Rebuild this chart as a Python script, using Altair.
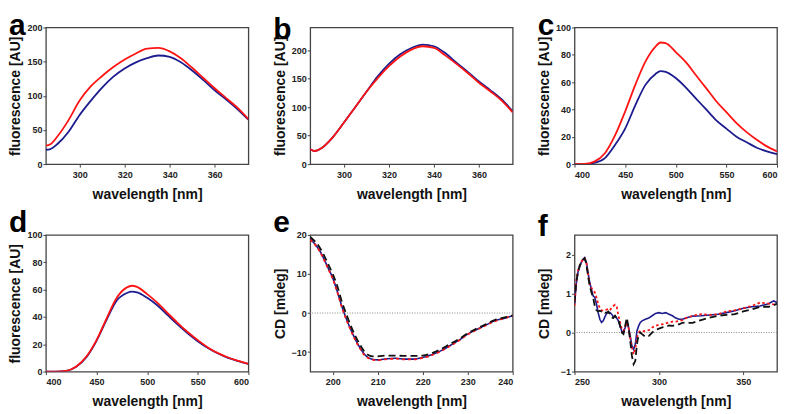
import altair as alt
import pandas as pd

BLUE = "#1c1c8e"
RED = "#ff1414"
BLACK = "#111111"
FONT = "Liberation Sans"

# ---------------- panel a ----------------
a_wl = [285, 287, 290, 295, 300, 305, 310, 315, 320, 325, 330, 335, 340, 345, 350, 355, 360, 365, 370, 375]
a_blue = [21, 22, 29, 47, 72, 93, 112, 128, 140, 149, 155, 159, 157, 149, 137, 123, 108, 95, 81, 65]
a_red = [27, 29, 40, 64, 93, 114, 129, 142, 153, 162, 169, 170, 165, 155, 141, 126, 111, 97, 83, 66]

# ---------------- panel b ----------------
b_wl = [285, 287, 290, 295, 300, 305, 310, 315, 320, 325, 330, 335, 340, 345, 350, 355, 360, 365, 370, 375]
b_blue = [26, 23, 28, 47, 73, 100, 127, 154, 176, 193, 204, 210, 207, 195, 178, 162, 145, 130, 114, 93]
b_red = [26, 23, 28, 47, 73, 100, 127, 151, 172, 189, 201, 207, 204, 191, 176, 160, 143, 128, 112, 91]

# ---------------- panel c ----------------
c_wl = [400, 410, 420, 430, 440, 450, 460, 470, 480, 485, 490, 500, 510, 520, 530, 540, 550, 560, 570, 580, 590, 600]
c_blue = [0, 0, 1, 4.4, 14, 26, 43, 58, 66, 68, 67.5, 63, 56, 48, 40, 32, 26, 20, 16, 12, 9.3, 7.3]
c_red = [0, 0.2, 2, 8, 21, 38.5, 58, 75, 86, 89, 88.5, 82, 74.6, 65, 55.6, 46, 38, 30, 23.4, 17.8, 13, 9.3]

# ---------------- panel d ----------------
d_wl = [400, 410, 420, 430, 440, 450, 460, 470, 480, 485, 490, 500, 510, 520, 530, 540, 550, 560, 570, 580, 590, 600]
d_blue = [0, 0, 0.5, 3.5, 10.5, 22.5, 38, 52, 57.5, 58.5, 58, 54, 48.5, 41.5, 34.5, 28, 22.2, 17.2, 13.2, 10, 7.7, 5.6]
d_red = [0, 0, 0.5, 3.7, 11, 23, 39, 54, 61.6, 62.8, 62, 56.7, 50.5, 43, 35.7, 29, 23, 17.7, 13.5, 10.3, 7.9, 5.7]

# ---------------- panel e ----------------
e_wl = [195, 197, 199, 200, 201, 202, 203, 204, 205, 206, 207, 208, 209, 210, 212, 214, 216, 218, 220,
        222, 224, 226, 228, 230, 232, 234, 236, 238, 240]
e_blue = [19, 16.2, 11.5, 9, 5.6, 1.8, -1.4, -4.2, -6.7, -8.8, -10.5, -11.5, -11.9, -12, -11.7, -11.6, -11.8,
          -11.8, -11.4, -10.7, -9.7, -8.4, -7, -5.4, -4.2, -3.1, -2, -1.4, -0.7]
e_red = [18.8, 16, 11.3, 8.8, 5.4, 1.6, -1.6, -4.4, -6.9, -9, -10.7, -11.6, -12, -12.1, -11.8, -11.7, -11.9,
         -11.9, -11.5, -10.8, -9.8, -8.5, -7.1, -5.5, -4.3, -3.2, -2.1, -1.4, -0.7]
e_black = [19.5, 17, 12.5, 10, 7, 3, -0.2, -3.2, -5.8, -8, -9.8, -10.8, -11.1, -11.1, -10.9, -10.9, -11,
           -11, -10.9, -10.3, -9.3, -8, -6.7, -5.2, -4, -2.9, -1.8, -1.2, -0.6]

# ---------------- panel f ----------------
f_wl = [250, 251, 252, 253, 254, 255, 256, 257, 258, 259, 260, 261, 262, 263, 264, 265, 266, 267, 268, 269,
        270, 271, 272, 273, 274, 275, 276, 277, 278, 279, 280, 281, 282, 283, 284, 285, 286, 287, 288, 289,
        290, 292, 294, 296, 298, 300, 302, 304, 306, 308, 310, 312, 314, 316, 318, 320, 325, 330, 335, 340,
        345, 350, 355, 360, 365, 368, 370]
f_blue = [0.73, 1.24, 1.54, 1.67, 1.8, 1.88, 1.92, 1.8, 1.54, 1.28, 1.11, 0.94, 0.9, 0.73, 0.51, 0.34, 0.26,
          0.3, 0.4, 0.49, 0.51, 0.51, 0.47, 0.4, 0.43, 0.37, 0.3, 0.17, 0.04, 0, 0.13, 0.3, 0.13, -0.09,
          -0.34, -0.43, -0.3, 0.04, 0.17, 0.26, 0.3, 0.34, 0.37, 0.43, 0.49, 0.51, 0.49, 0.51, 0.47, 0.43,
          0.37, 0.34, 0.34, 0.37, 0.4, 0.42, 0.43, 0.45, 0.47, 0.51, 0.56, 0.62, 0.66, 0.68, 0.74, 0.81, 0.77]
f_red = [0.68, 1.32, 1.58, 1.71, 1.8, 1.88, 1.9, 1.8, 1.5, 1.24, 1.15, 1.07, 1.03, 0.9, 0.73, 0.62, 0.57,
         0.56, 0.58, 0.59, 0.6, 0.57, 0.64, 0.68, 0.71, 0.66, 0.43, 0.26, 0.09, 0.04, 0.13, 0.26, 0.13, -0.13,
         -0.38, -0.56, -0.43, -0.13, 0, 0.04, 0.03, 0.04, 0.06, 0.13, 0.17, 0.2, 0.21, 0.23, 0.26, 0.28,
         0.28, 0.3, 0.32, 0.37, 0.4, 0.43, 0.47, 0.45, 0.47, 0.54, 0.57, 0.62, 0.68, 0.77, 0.74, 0.72, 0.71]
f_black = [0.77, 1.28, 1.54, 1.71, 1.8, 1.85, 1.9, 1.75, 1.45, 1.2, 1.03, 0.9, 0.68, 0.57, 0.54, 0.56, 0.54,
           0.56, 0.51, 0.51, 0.54, 0.47, 0.38, 0.37, 0.43, 0.37, 0.32, 0.17, 0, -0.04, 0.17, 0.38, 0.13, -0.21,
           -0.6, -0.81, -0.73, -0.3, -0.04, 0, -0.04, -0.11, -0.09, 0, 0.06, 0.1, 0.13, 0.15, 0.18, 0.17,
           0.2, 0.21, 0.25, 0.26, 0.25, 0.25, 0.32, 0.38, 0.43, 0.45, 0.47, 0.54, 0.59, 0.66, 0.66, 0.7, 0.74]


def line_layer(wl, vals, color, xscale, xaxis, yscale, yaxis, dash=None, width=1.8, interp="monotone"):
    df = pd.DataFrame({"wl": wl, "v": vals})
    kw = dict(color=color, strokeWidth=width, interpolate=interp, clip=True)
    if dash is not None:
        kw["strokeDash"] = dash
    return alt.Chart(df).mark_line(**kw).encode(
        x=alt.X("wl:Q", scale=xscale, axis=xaxis),
        y=alt.Y("v:Q", scale=yscale, axis=yaxis),
    )


def panel(letter, series, xdom, xticks, ydom, yticks, ytitle, zero=False, interp="monotone", toff=-42):
    xscale = alt.Scale(domain=xdom, nice=False, zero=False)
    yscale = alt.Scale(domain=ydom, nice=False, zero=False)
    xaxis = alt.Axis(values=xticks, title="wavelength [nm]", format="d")
    yaxis = alt.Axis(values=yticks, title=ytitle, format="d")
    layers = []
    if zero:
        zdf = pd.DataFrame({"z": [0]})
        layers.append(
            alt.Chart(zdf).mark_rule(color="#888888", strokeWidth=1, strokeDash=[1, 1.5]).encode(
                y=alt.Y("z:Q", scale=yscale, axis=yaxis)
            )
        )
    for wl, vals, color, dash, width in series:
        layers.append(line_layer(wl, vals, color, xscale, xaxis, yscale, yaxis, dash, width, interp))
    return alt.layer(*layers).properties(
        width=203,
        height=137,
        title=alt.TitleParams(
            text=letter, anchor="start", frame="group", fontSize=30, fontWeight="bold",
            font=FONT, color="#000000", dx=-37, offset=toff, baseline="alphabetic",
        ),
    )


pa = panel("a", [(a_wl, a_blue, BLUE, None, 1.8), (a_wl, a_red, RED, None, 1.8)],
           [285, 375], [300, 320, 340, 360], [0, 200], [0, 50, 100, 150, 200], "fluorescence [AU]")
pb = panel("b", [(b_wl, b_blue, BLUE, None, 1.8), (b_wl, b_red, RED, None, 1.8)],
           [285, 375], [300, 320, 340, 360], [0, 240], [0, 50, 100, 150, 200], "fluorescence [AU]")
pc = panel("c", [(c_wl, c_blue, BLUE, None, 1.8), (c_wl, c_red, RED, None, 1.8)],
           [400, 600], [400, 450, 500, 550, 600], [0, 100], [0, 20, 40, 60, 80, 100], "fluorescence [AU]")
pd_ = panel("d", [(d_wl, d_blue, BLUE, None, 1.8), (d_wl, d_red, RED, None, 1.8)],
            [400, 600], [400, 450, 500, 550, 600], [0, 100], [0, 20, 40, 60, 80, 100], "fluorescence [AU]",
            toff=-31)
pe = panel("e", [(e_wl, e_blue, BLUE, None, 1.6), (e_wl, e_red, RED, [3, 3], 1.8),
                 (e_wl, e_black, BLACK, [7, 4], 1.8)],
           [195, 240], [200, 210, 220, 230, 240], [-15, 20], [-10, 0, 10, 20], "CD [mdeg]", zero=True,
           toff=-31)
pf = panel("f", [(f_wl, f_blue, BLUE, None, 1.6), (f_wl, f_red, RED, [2.5, 2.5], 1.8),
                 (f_wl, f_black, BLACK, [7, 4], 1.8)],
           [250, 370], [250, 300, 350], [-1, 2.5], [-1, 0, 1, 2], "CD [mdeg]", zero=True, interp="linear",
           toff=-31)

chart = alt.concat(
    pa, pb, pc, pd_, pe, pf,
    columns=3,
    spacing={"row": 71, "column": 62},
    bounds="flush",
).properties(
    padding={"left": 0, "top": 2, "right": 0, "bottom": 0},
).configure_view(
    stroke="#444444", strokeWidth=1.3,
).configure_axis(
    grid=False,
    domain=False,
    labelFont=FONT, labelFontSize=9, labelFontWeight="bold", labelColor="#222222",
    titleFont=FONT, titleFontSize=14, titleFontWeight="bold", titleColor="#111111",
    tickSize=3, tickColor="#444444", tickWidth=1,
).configure_axisY(
    minExtent=17, maxExtent=17, labelPadding=1, titlePadding=6,
).configure_axisX(
    labelPadding=3, titlePadding=8,
)

chart.save("out.html", embed_options={"renderer": "svg", "actions": False})
